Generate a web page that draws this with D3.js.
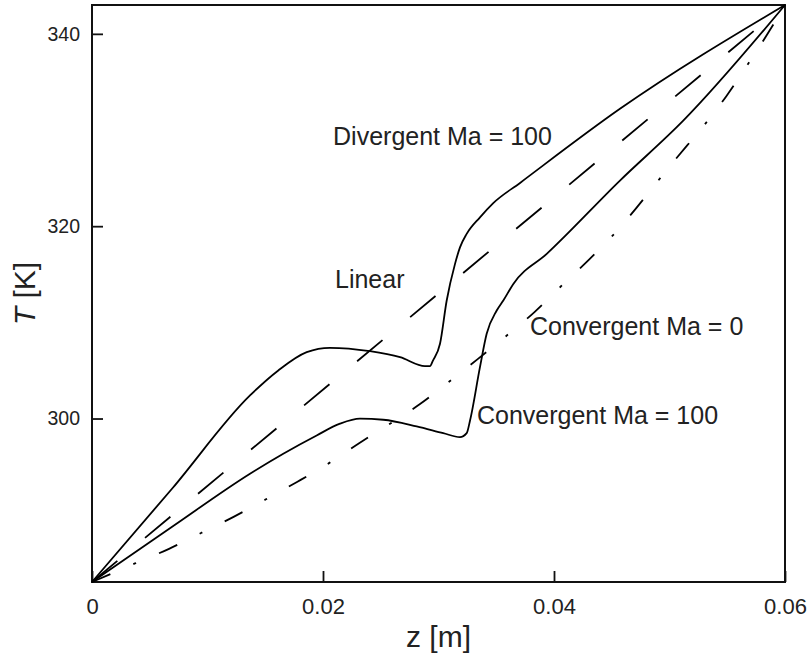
<!DOCTYPE html>
<html>
<head>
<meta charset="utf-8">
<script src="https://cdn.jsdelivr.net/npm/d3@7"></script>
<style>
  body { margin: 0; background: #fff; }
  text { font-family: "Liberation Sans", Arial, sans-serif; fill: #222; }
</style>
</head>
<body>
<div id="chart"></div>
<script>
// z in metres, T in kelvin
const zLinear = [0, 0.06];
const tLinear = [283, 343];

const zDivergent = [0, 0.007, 0.01368, 0.01613, 0.01859, 0.0206, 0.02407, 0.02667, 0.02883, 0.02926,
  0.02952, 0.03013, 0.03071, 0.03143, 0.03186, 0.03244, 0.03359, 0.03474, 0.03706, 0.04571, 0.06];
const tDivergent = [283, 292.8, 302.4, 305.0, 306.9, 307.35, 307.0, 306.38, 305.45, 305.45,
  306.03, 307.77, 312.27, 316.08, 317.8, 319.2, 320.92, 322.4, 324.5, 332.2, 343];

const zConv100 = [0, 0.007, 0.01368, 0.01656, 0.01945, 0.02147, 0.0232, 0.02522, 0.02811, 0.03041,
  0.03186, 0.03244, 0.03273, 0.03359, 0.03417, 0.03504, 0.03561, 0.03648, 0.03937, 0.04571, 0.05119, 0.06];
const tConv100 = [283, 288.8, 294.26, 296.34, 298.24, 299.46, 299.98, 299.87, 299.18, 298.48,
  298.06, 298.48, 299.8, 305.34, 308.81, 311.23, 312.27, 314.0, 317.12, 324.74, 330.97, 343];

const zConv0 = [0, 0.00372, 0.00667, 0.00944, 0.0123, 0.01506, 0.01779, 0.02052, 0.02316, 0.0258, 0.02843,
  0.03094, 0.03342, 0.03584, 0.03831, 0.04052, 0.04281, 0.045, 0.05, 0.05495, 0.0567, 0.05848, 0.06];
const tConv0 = [283, 284.93, 286.45, 288.09, 289.8, 291.6, 293.43, 295.36, 297.46, 299.46, 301.53,
  303.85, 306.2, 308.56, 311.07, 313.65, 316.27, 318.92, 326.2, 333.57, 336.68, 339.98, 343];

const xTicks = [0, 0.02, 0.04, 0.06];
const yTicks = [300, 320, 340];

const labelTexts = ["Divergent Ma = 100", "Linear", "Convergent Ma = 0", "Convergent Ma = 100"];

const margin = { top: 5, right: 23, bottom: 77, left: 92 },
    width = 808 - margin.left - margin.right,
    height = 659 - margin.top - margin.bottom;

const svg = d3.select("#chart")
    .append("svg")
    .attr("width", width + margin.left + margin.right)
    .attr("height", height + margin.top + margin.bottom)
    .append("g")
    .attr("transform", `translate(${margin.left},${margin.top})`);

const xScale = d3.scaleLinear().domain([0, 0.06]).range([0, width]);
const yScale = d3.scaleLinear().domain([283, 343]).range([height, 0]);

// axes, ticks pointing inward
const xAxis = svg.append("g")
    .attr("transform", `translate(0, ${height})`)
    .call(d3.axisBottom(xScale)
        .tickValues(xTicks)
        .tickSizeInner(-11)
        .tickSizeOuter(0)
        .tickPadding(16)
        .tickFormat(d => d === 0 ? "0" : d3.format(".2f")(d)));

const yAxis = svg.append("g")
    .call(d3.axisLeft(yScale)
        .tickValues(yTicks)
        .tickSizeInner(-11)
        .tickSizeOuter(0)
        .tickPadding(12));

xAxis.select(".domain").remove();
yAxis.select(".domain").remove();
xAxis.selectAll("line").attr("stroke", "#111").attr("stroke-width", 1.8);
yAxis.selectAll("line").attr("stroke", "#111").attr("stroke-width", 1.8);
xAxis.selectAll("text").style("font-size", "22px").attr("fill", "#333");
yAxis.selectAll("text").style("font-size", "19.5px").attr("fill", "#333");

// frame
svg.append("rect")
    .attr("width", width)
    .attr("height", height)
    .attr("fill", "none")
    .attr("stroke", "#111")
    .attr("stroke-width", 2);

const line = d3.line()
    .x(d => xScale(d[0]))
    .y(d => yScale(d[1]))
    .curve(d3.curveMonotoneX);

const series = [
    { z: zLinear, t: tLinear, dash: "33,36" },
    { z: zDivergent, t: tDivergent, dash: null },
    { z: zConv100, t: tConv100, dash: null },
    { z: zConv0, t: tConv0, dash: "20,25,3,25" }
];

svg.append("g")
    .selectAll("path")
    .data(series)
    .join("path")
    .attr("d", s => line(d3.zip(s.z, s.t)))
    .attr("fill", "none")
    .attr("stroke", "#000")
    .attr("stroke-width", 1.8)
    .attr("stroke-dasharray", s => s.dash);

// label anchors in data units (z, T)
const labelAt = [[0.02087, 328.47], [0.02104, 313.59], [0.03792, 308.68], [0.03333, 299.46]];

svg.append("g")
    .selectAll("text")
    .data(labelTexts)
    .join("text")
    .attr("x", (d, i) => xScale(labelAt[i][0]))
    .attr("y", (d, i) => yScale(labelAt[i][1]))
    .style("font-size", "25px")
    .text(d => d);

// axis titles
svg.append("text")
    .attr("x", width / 2)
    .attr("y", height + 65)
    .attr("text-anchor", "middle")
    .style("font-size", "30px")
    .text("z [m]");

const yTitle = svg.append("text")
    .attr("transform", `translate(${35 - margin.left}, ${height / 2}) rotate(-90)`)
    .attr("text-anchor", "middle")
    .style("font-size", "30px");
yTitle.append("tspan").style("font-style", "italic").text("T");
yTitle.append("tspan").text(" [K]");
</script>
</body>
</html>
